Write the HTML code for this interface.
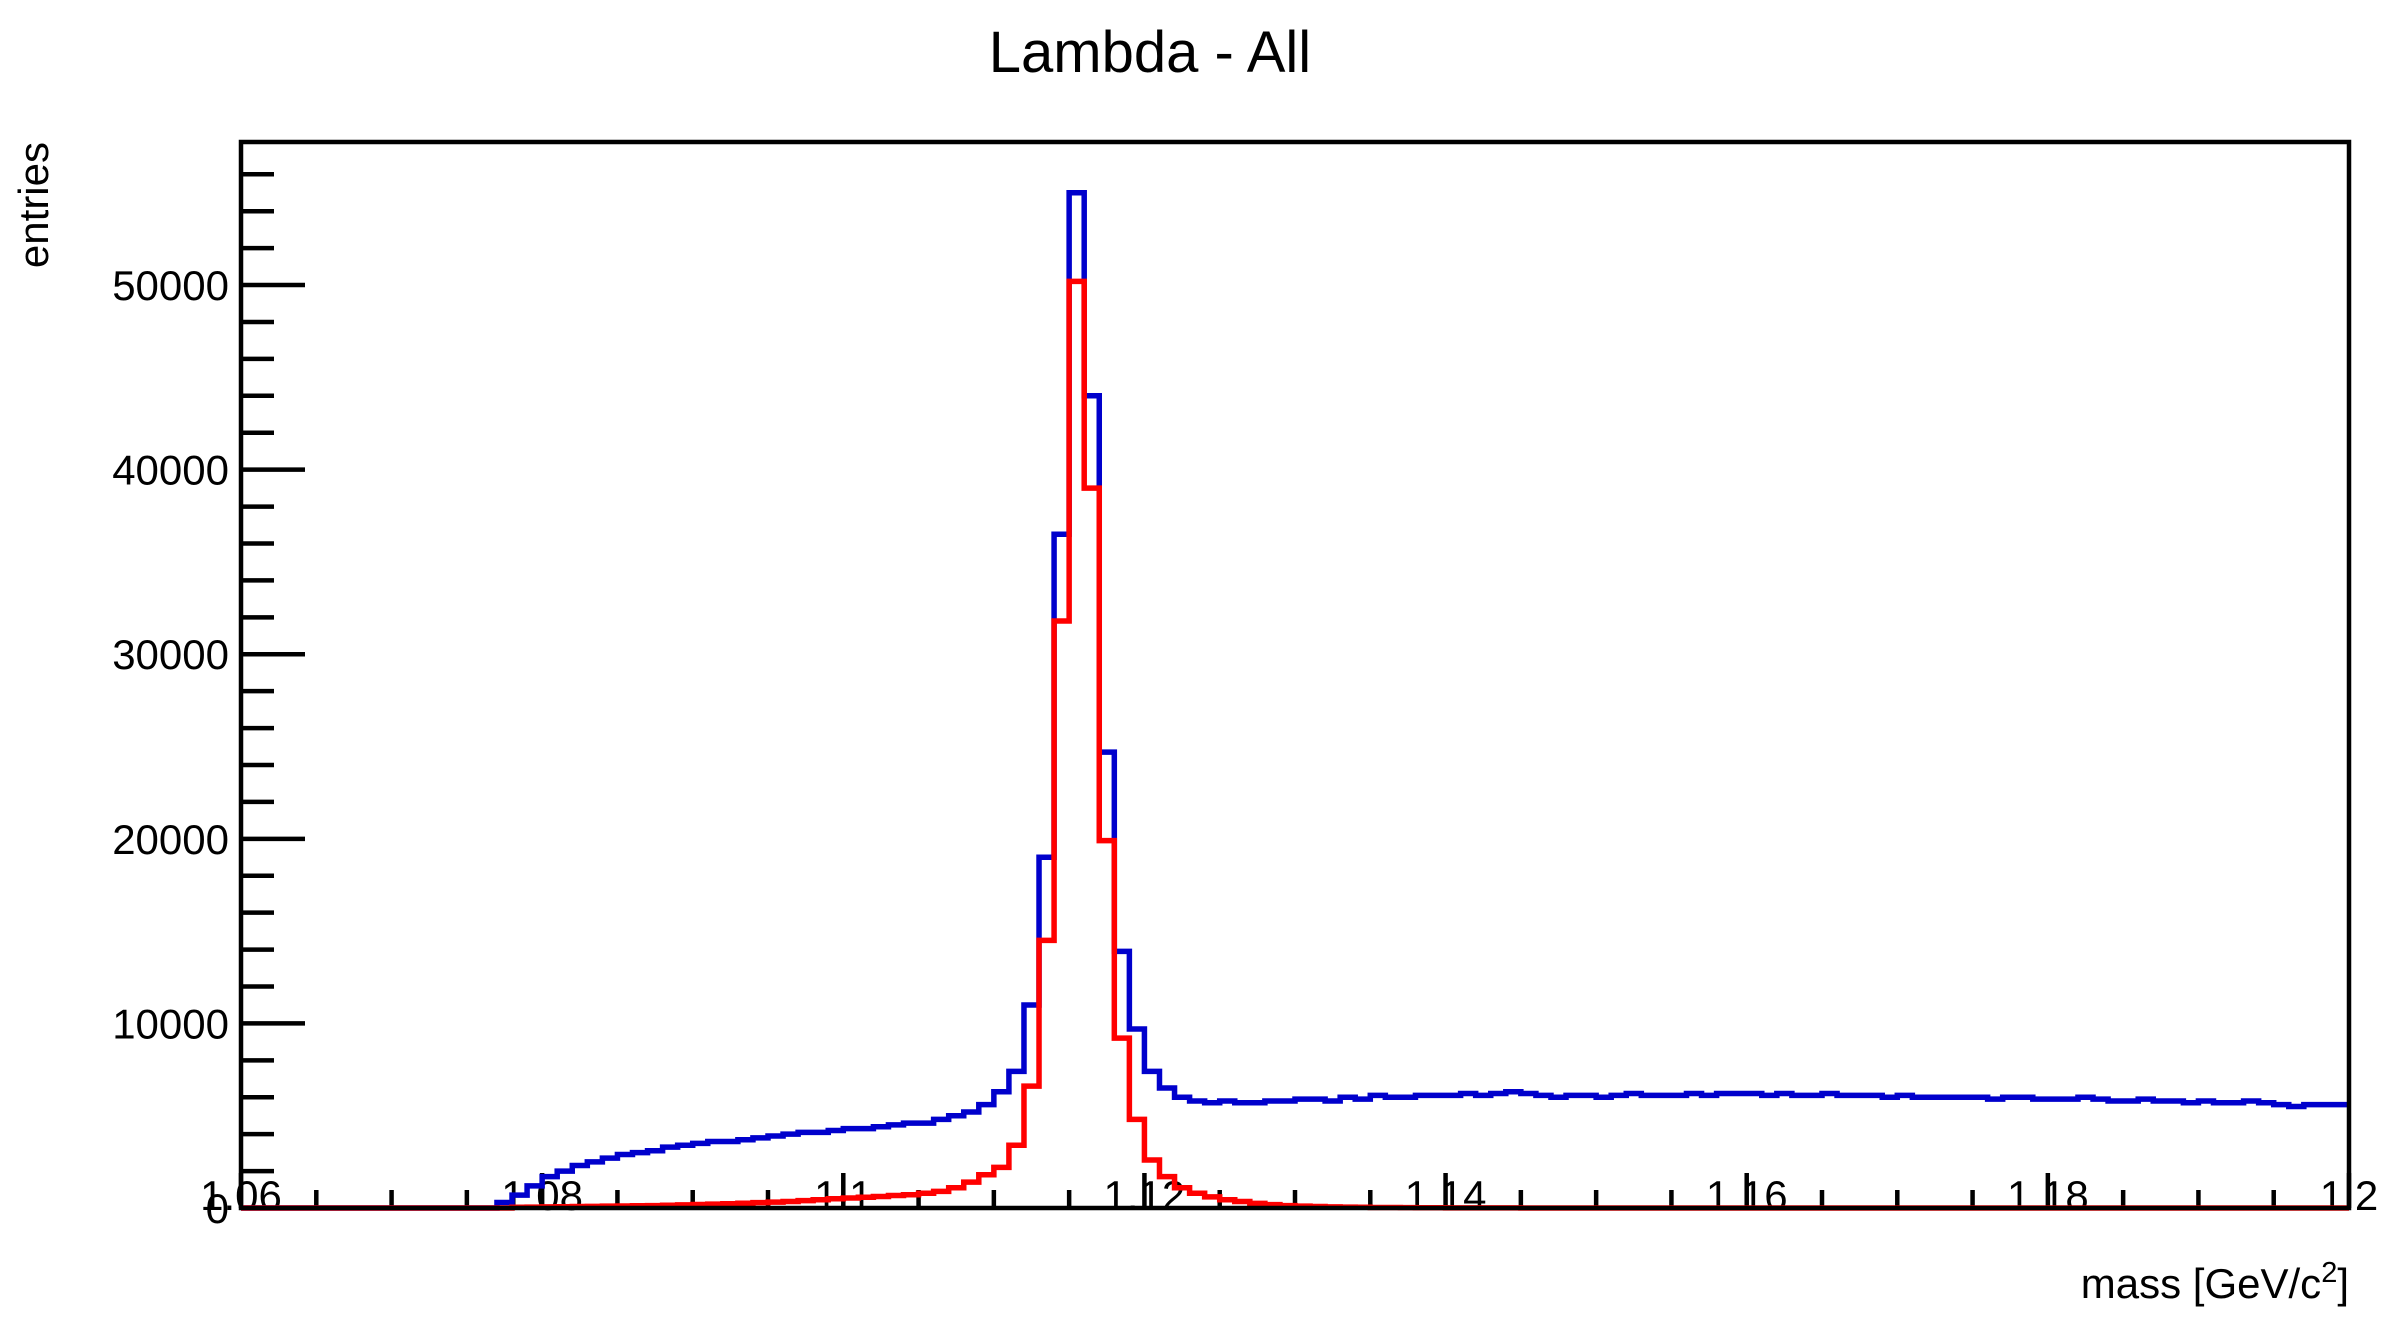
<!DOCTYPE html>
<html><head><meta charset="utf-8"><style>
html,body{margin:0;padding:0;background:#fff;}
svg{display:block;font-family:"Liberation Sans",Arial,sans-serif;}
</style></head><body>
<svg id="chart" width="2392" height="1331" viewBox="0 0 2392 1331" xmlns="http://www.w3.org/2000/svg">
<rect width="2392" height="1331" fill="#fff"/>
<text x="1150" y="72" font-size="58" text-anchor="middle">Lambda - All</text>
<text transform="translate(48,142) rotate(-90)" font-size="42" text-anchor="end">entries</text>
<text x="2349" y="1298" font-size="42" text-anchor="end">mass [GeV/c<tspan font-size="29" dy="-16">2</tspan><tspan dy="16">]</tspan></text>
<g id="ticks"></g>
<g id="series"></g>
<rect x="241" y="142" width="2108" height="1066" fill="none" stroke="#000" stroke-width="4.5"/>
</svg>
<script>
const xMin = 1.06, xMax = 1.2, binWidth = 0.001;
const yMax = 57750;
const xTickLabels = ["1.06","1.08","1.1","1.12","1.14","1.16","1.18","1.2"];
const yTickLabels = ["0","10000","20000","30000","40000","50000"];
// 140 bins from 1.060 to 1.200
const blueValues = [
0,0,0,0,0,0,0,0,0,0, 0,0,0,0,0,0,0,300,700,1200,
1700,2000,2300,2500,2700,2900,3000,3100,3300,3400,
3500,3600,3600,3700,3800,3900,4000,4100,4100,4200,
4300,4300,4400,4500,4600,4600,4800,5000,5200,
5600,6300,7400,11000,19000,36500,55000,44000,24700,13900,
9700,7400,6500,6000,5800,5700,5800,5700,5700,5800,
5800,5900,5900,5800,6000,5900,6100,6000,6000,6100,
6100,6100,6200,6100,6200,6300,6200,6100,6000,6100,
6100,6000,6100,6200,6100,6100,6100,6200,6100,6200,
6200,6200,6100,6200,6100,6100,6200,6100,6100,6100,
6000,6100,6000,6000,6000,6000,6000,5900,6000,6000,
5900,5900,5900,6000,5900,5800,5800,5900,5800,5800,
5700,5800,5700,5700,5800,5700,5600,5500,5600,5600,5600];
const redValues = [
0,0,0,0,0,0,0,0,0,0, 0,0,0,0,0,0,0,0,
40,50,60,70,80,90,100,110,120,130,
150,170,190,210,230,260,290,320,350,400,
450,500,540,580,620,680,720,800,900,1100,
1400,1800,2200,3400,6600,14500,31800,50200,39000,19900,
9200,4800,2600,1700,1100,800,600,450,350,250,
180,130,100,80,60,50,40,30,25,20,
15,12,10,8,6,5,4,3,2,2,
1,1,1,0,0,0,0,0,0,0,
0,0,0,0,0,0,0,0,0,0,
0,0,0,0,0,0,0,0,0,0,
0,0,0,0,0,0,0,0,0,0,
0,0,0,0,0,0,0,0,0,0,0,0];

const L=241,R=2349,T=142,B=1208;
const NS="http://www.w3.org/2000/svg";
const xs = v => L + (v - xMin) / (xMax - xMin) * (R - L);
const ys = v => B - v / yMax * (B - T);
const ticksG = document.getElementById('ticks');
const seriesG = document.getElementById('series');
function mk(tag, attrs, parent){const e=document.createElementNS(NS,tag);for(const k in attrs)e.setAttribute(k,attrs[k]);parent.appendChild(e);return e;}

for(let v=0; v<=yMax; v+=2000){
  const major = v%10000===0;
  const t = mk('line',{x1:L,x2:L+(major?64:33),y1:ys(v),y2:ys(v),stroke:'#000','stroke-width':4.5},ticksG);
  
  
}
yTickLabels.forEach(s=>{
  const t = mk('text',{x:229,y:ys(+s)+15,'font-size':42,'text-anchor':'end'},ticksG);
  t.textContent=s;
  
  
});
for(let i=0;i<=28;i++){
  const v = xMin + i*0.005;
  const major = i%4===0;
  const t = mk('line',{x1:xs(v),x2:xs(v),y1:B,y2:B-(major?35:18),stroke:'#000','stroke-width':4.5},ticksG);
  
  
}
xTickLabels.forEach(s=>{
  const t = mk('text',{x:xs(+s),y:1210,'font-size':42,'text-anchor':'middle'},ticksG);
  t.textContent=s;
  
  
});

function stepPath(vals){
  let d = 'M'+xs(xMin)+','+ys(vals[0]);
  vals.forEach((v,i)=>{
    const x0=xs(xMin+i*binWidth), x1=xs(xMin+(i+1)*binWidth);
    d += ' L'+x0+','+ys(v)+' L'+x1+','+ys(v);
  });
  return d;
}
const pb = mk('path',{d:stepPath(blueValues),fill:'none',stroke:'#0000cc','stroke-width':5.5},seriesG);


const pr = mk('path',{d:stepPath(redValues),fill:'none',stroke:'#ff0000','stroke-width':5.5},seriesG);


</script>
</body></html>
